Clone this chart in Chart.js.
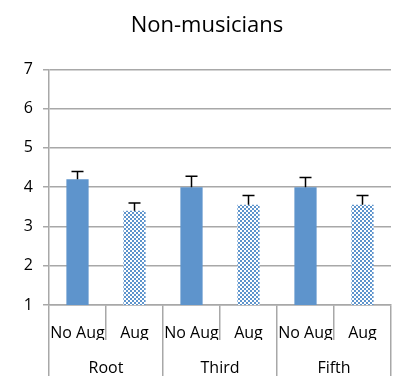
<!DOCTYPE html>
<html>
<head>
<meta charset="utf-8">
<script src="https://cdn.jsdelivr.net/npm/chart.js@4.4.1/dist/chart.umd.min.js"></script>
<style>
  body { margin: 0; background: #fff; }
</style>
</head>
<body>
<canvas id="barChart" width="393" height="376"></canvas>
<script>
var groups = ['Root', 'Third', 'Fifth'];
var conditions = ['No Aug', 'Aug'];
var noAugMeans = [4.2, 4.0, 4.0];
var augMeans = [3.4, 3.55, 3.55];
var noAugErr = [0.2, 0.28, 0.25];
var augErr = [0.2, 0.24, 0.24];
var yMin = 1, yMax = 7;

// 6 sub-categories: No Aug / Aug for each group
var subLabels = [];
var noAugData = [], augData = [];
var noAugErrData = [], augErrData = [];
groups.forEach(function (g, i) {
    subLabels.push(conditions[0], conditions[1]);
    noAugData.push(noAugMeans[i], null);
    augData.push(null, augMeans[i]);
    noAugErrData.push(noAugErr[i], null);
    augErrData.push(null, augErr[i]);
});

var blue = '#5E94CC';
var gridGray = '#A8A8A8';

// checkered fill for the Aug bars
var pc = document.createElement('canvas');
pc.width = 4; pc.height = 4;
var pctx = pc.getContext('2d');
pctx.fillStyle = '#ffffff';
pctx.fillRect(0, 0, 4, 4);
pctx.fillStyle = blue;
pctx.fillRect(0, 0, 2, 2);
pctx.fillRect(2, 2, 2, 2);

var ctx = document.getElementById('barChart').getContext('2d');
var checker = ctx.createPattern(pc, 'repeat');

var errorBars = {
    id: 'errorBars',
    afterDatasetsDraw: function (chart) {
        var c = chart.ctx;
        var y = chart.scales.y;
        c.save();
        c.strokeStyle = '#000';
        c.lineWidth = 1.5;
        chart.data.datasets.forEach(function (ds, di) {
            var meta = chart.getDatasetMeta(di);
            meta.data.forEach(function (bar, i) {
                var v = ds.data[i];
                if (v === null) return;
                var top = y.getPixelForValue(v + ds.errors[i]);
                c.beginPath();
                c.moveTo(bar.x, bar.y);
                c.lineTo(bar.x, top);
                c.moveTo(bar.x - 6, top);
                c.lineTo(bar.x + 6, top);
                c.stroke();
            });
        });
        c.restore();
    }
};

var myChart = new Chart(ctx, {
    type: 'bar',
    data: {
        labels: subLabels,
        datasets: [{
                label: 'No Aug',
                data: noAugData,
                errors: noAugErrData,
                backgroundColor: blue,
                skipNull: true
            },
            {
                label: 'Aug',
                data: augData,
                errors: augErrData,
                backgroundColor: checker,
                skipNull: true
            }
        ]
    },
    options: {
        responsive: false,
        animation: false,
        categoryPercentage: 1,
        barPercentage: 0.39,
        layout: {
            padding: { left: 23, right: 2, top: 13, bottom: 0 }
        },
        plugins: {
            legend: { display: false },
            tooltip: { enabled: false },
            title: {
                display: true,
                text: 'Non-musicians',
                color: '#000',
                font: { family: 'Open Sans', size: 22, weight: 'normal' },
                padding: { top: 0, bottom: 30 }
            }
        },
        scales: {
            y: {
                min: yMin,
                max: yMax,
                ticks: {
                    stepSize: 1,
                    color: '#000',
                    padding: 10,
                    font: { family: 'Open Sans', size: 16 }
                },
                grid: { color: gridGray, lineWidth: 1.5, tickLength: 6 },
                border: { color: gridGray, width: 1.5 },
                afterFit: function (s) { s.width = 26; }
            },
            x: {
                offset: true,
                ticks: {
                    color: '#000',
                    padding: -16,
                    maxRotation: 0,
                    autoSkip: false,
                    font: { family: 'Open Sans', size: 16 }
                },
                grid: { offset: true, drawOnChartArea: false, color: gridGray, lineWidth: 1.5, tickLength: 35 },
                border: { color: gridGray, width: 1.5 },
                afterFit: function (s) { s.height = 35; }
            },
            x2: {
                type: 'category',
                labels: groups,
                position: 'bottom',
                offset: true,
                ticks: {
                    color: '#000',
                    padding: -17,
                    maxRotation: 0,
                    font: { family: 'Open Sans', size: 16 }
                },
                grid: { offset: true, drawOnChartArea: false, color: gridGray, lineWidth: 1.5, tickLength: 36 },
                border: { display: false },
                afterFit: function (s) { s.height = 36; }
            }
        }
    },
    plugins: [errorBars]
});
</script>
</body>
</html>
